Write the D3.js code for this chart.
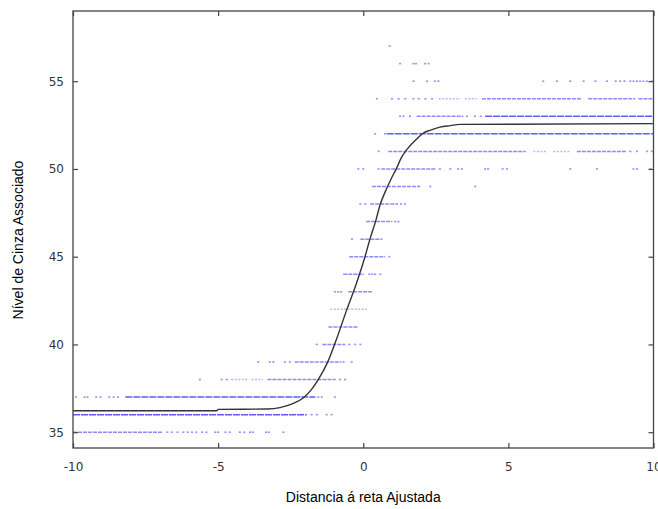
<!DOCTYPE html>
<html>
<head>
<meta charset="utf-8">
<script src="https://cdn.jsdelivr.net/npm/d3@7"></script>
<style>
  html, body { margin: 0; padding: 0; background: #fff; }
  svg { display: block; }
</style>
</head>
<body>
<svg id="chart" width="658" height="509"></svg>
<script>
// ---- data ----
const xTicks = [-10, -5, 0, 5, 10];
const yTicks = [35, 40, 45, 50, 55];
const xLabel = "Distancia á reta Ajustada";
const yLabel = "Nível de Cinza Associado";

// dense runs of observations: [grey level, x start, x end, density (1 sparse .. 3 dense)]
const denseRuns = [
  [35, -10, -6.9, 2],
  [36, -10, -1.95, 3],
  [37, -8.2, -1.65, 3],
  [38, -4.55, -4.0, 1], [38, -3.85, -3.45, 1], [38, -3.3, -0.95, 2],
  [39, -2.36, -0.75, 2],
  [40, -1.41, -0.62, 2],
  [41, -1.2, -0.17, 2],
  [42, -1.14, 0.13, 1],
  [43, -0.52, 0.3, 2],
  [44, -0.69, 0.03, 2],
  [45, -0.48, 0.76, 2],
  [46, -0.1, 0.66, 2],
  [47, 0.1, 1.0, 2],
  [48, 0.24, 1.2, 2],
  [49, 0.3, 1.96, 2],
  [50, 0.62, 2.5, 2],
  [51, 0.86, 5.6, 2], [51, 5.86, 6.34, 1], [51, 6.55, 7.13, 1], [51, 7.36, 9.05, 2],
  [52, 0.81, 10, 3],
  [53, 1.84, 3.45, 2], [53, 4.2, 10, 3],
  [54, 2.6, 3.35, 1], [54, 3.5, 3.91, 1], [54, 4.09, 7.54, 2], [54, 7.75, 9.37, 2], [54, 9.48, 10, 2]
];

// isolated observations: [grey level, x]
const isolatedPoints = [
  [35, -6.75], [35, -6.6], [35, -6.4], [35, -6.2], [35, -6.05], [35, -5.9], [35, -5.75], [35, -5.55],
  [35, -5.4], [35, -5.1], [35, -5.0], [35, -4.75], [35, -4.6], [35, -4.25], [35, -4.1], [35, -3.9],
  [35, -3.8], [35, -3.35], [35, -3.25], [35, -2.75],
  [36, -1.78], [36, -1.6], [36, -1.26], [36, -1.09],
  [37, -9.9], [37, -9.6], [37, -9.5], [37, -9.2], [37, -9.05], [37, -8.75], [37, -8.6], [37, -8.45],
  [37, -1.55], [37, -1.43], [37, -0.98],
  [38, -5.63], [38, -4.88], [38, -4.7], [38, -0.8], [38, -0.63],
  [39, -3.62], [39, -3.22], [39, -3.1], [39, -2.7], [39, -2.53], [39, -0.68], [39, -0.4],
  [40, -1.6], [40, -0.48], [40, -0.28], [40, -0.1],
  [43, -0.97], [43, -0.86], [43, -0.76],
  [44, 0.21], [44, 0.31], [44, 0.41], [44, 0.59],
  [45, 0.9],
  [46, -0.39],
  [47, 1.1], [47, 1.21],
  [48, -0.1], [48, 0.07], [48, 1.3], [48, 1.44],
  [49, 2.31], [49, 3.86],
  [50, -0.17], [50, 0.0], [50, 0.53], [50, 2.64], [50, 3.0], [50, 3.27], [50, 3.4], [50, 4.2],
  [50, 4.3], [50, 4.8], [50, 4.95], [50, 7.13], [50, 8.05], [50, 9.31], [50, 9.43], [50, 9.89],
  [51, 0.53], [51, 9.2], [51, 9.43], [51, 9.78], [51, 9.94],
  [52, 0.41], [52, 0.75],
  [53, 1.27], [53, 1.39], [53, 1.61], [53, 3.57], [53, 3.85], [53, 4.05],
  [54, 0.47], [54, 0.99], [54, 1.22], [54, 1.45], [54, 1.73], [54, 1.91], [54, 2.14], [54, 2.37],
  [55, 1.73], [55, 2.2], [55, 2.47], [55, 2.59], [55, 6.2], [55, 6.67], [55, 7.13], [55, 7.59],
  [55, 8.0], [55, 8.4], [55, 8.7], [55, 8.85], [55, 9.0], [55, 9.2], [55, 9.31], [55, 9.43],
  [55, 9.54], [55, 9.65], [55, 9.77], [55, 9.94],
  [56, 1.27], [56, 1.73], [56, 1.82], [56, 2.13], [56, 2.25],
  [57, 0.91]
];

// fitted curve
const fitX = [-10, -5.05, -5.0, -3.3, -2.87, -2.41, -2.07, -1.8, -1.55, -1.21, -0.9, -0.57, -0.23,
              0.06, 0.23, 0.44, 0.57, 0.81, 0.98, 1.15, 1.3, 1.5, 1.84, 2.07, 2.3, 2.64, 3.0, 3.33, 10];
const fitY = [36.22, 36.22, 36.3, 36.32, 36.4, 36.64, 36.95, 37.4, 38.0, 39.05, 40.4, 41.97, 43.5,
              45.0, 46.0, 47.1, 47.9, 48.9, 49.5, 50.05, 50.6, 51.1, 51.7, 52.05, 52.2, 52.38, 52.47, 52.54, 52.58];

// ---- chart ----
const svg = d3.select("#chart");
const L = 73, R = 653.5, T = 11, B = 448;

const x = d3.scaleLinear().domain([-10, 10]).range([L, R]);
const y = d3.scaleLinear().domain([34.1, 59]).range([B, T]);
const alpha = d3.scaleLinear().domain([1, 3]).range([0.35, 0.8]);
const blue = "#3535ff";

const gData = svg.append("g");

gData.selectAll("line.run")
  .data(denseRuns)
  .join("line")
  .attr("class", "run")
  .attr("x1", d => x(d[1]))
  .attr("x2", d => x(d[2]))
  .attr("y1", d => y(d[0]))
  .attr("y2", d => y(d[0]))
  .attr("stroke", blue)
  .attr("stroke-width", 1.5)
  .attr("stroke-dasharray", d => d[3] === 3 ? "7,1" : (d[3] === 2 ? "4,1" : "2,1.5"))
  .attr("stroke-opacity", d => alpha(d[3]));

gData.selectAll("rect.pt")
  .data(isolatedPoints)
  .join("rect")
  .attr("class", "pt")
  .attr("x", d => x(d[1]) - 1)
  .attr("y", d => y(d[0]) - 0.8)
  .attr("width", 2)
  .attr("height", 1.6)
  .attr("fill", blue)
  .attr("fill-opacity", 0.55);

const fit = fitX.map((v, i) => [v, fitY[i]]);
svg.append("path")
  .datum(fit)
  .attr("fill", "none")
  .attr("stroke", "#333")
  .attr("stroke-width", 1.4)
  .attr("d", d3.line().x(d => x(d[0])).y(d => y(d[1])).curve(d3.curveMonotoneX));

// axes (ticks pointing inward on all four sides)
const font = "'DejaVu Sans', sans-serif";
function styleAxis(g) {
  g.select(".domain").remove();
  g.selectAll(".tick line").attr("stroke", "#444").attr("stroke-width", 1.2);
  g.selectAll(".tick text").attr("fill", "#333").style("font-family", font).style("font-size", "12px");
}

svg.append("g").attr("transform", `translate(0,${B})`)
  .call(d3.axisBottom(x).tickValues(xTicks).tickSize(-5).tickPadding(14).tickFormat(d3.format("d")))
  .call(styleAxis);
svg.append("g").attr("transform", `translate(0,${T})`)
  .call(d3.axisTop(x).tickValues(xTicks).tickSize(-5).tickFormat(""))
  .call(styleAxis);
svg.append("g").attr("transform", `translate(${L},0)`)
  .call(d3.axisLeft(y).tickValues(yTicks).tickSize(-5).tickPadding(9).tickFormat(d3.format("d")))
  .call(styleAxis);
svg.append("g").attr("transform", `translate(${R},0)`)
  .call(d3.axisRight(y).tickValues(yTicks).tickSize(-5).tickFormat(""))
  .call(styleAxis);

svg.selectAll(".tick text").text(function() { return this.textContent.replace("\u2212", "-"); });

svg.append("rect")
  .attr("x", L).attr("y", T)
  .attr("width", R - L).attr("height", B - T)
  .attr("fill", "none")
  .attr("stroke", "#444")
  .attr("stroke-width", 1.3);

svg.append("text")
  .attr("x", (L + R) / 2).attr("y", 502)
  .attr("text-anchor", "middle")
  .style("font-family", "'Liberation Sans', Arial, sans-serif")
  .style("font-size", "14px")
  .attr("fill", "#000")
  .text(xLabel);

svg.append("text")
  .attr("transform", `translate(23,240) rotate(-90)`)
  .attr("text-anchor", "middle")
  .style("font-family", "'Liberation Sans', Arial, sans-serif")
  .style("font-size", "14px")
  .attr("fill", "#000")
  .text(yLabel);
</script>
</body>
</html>
